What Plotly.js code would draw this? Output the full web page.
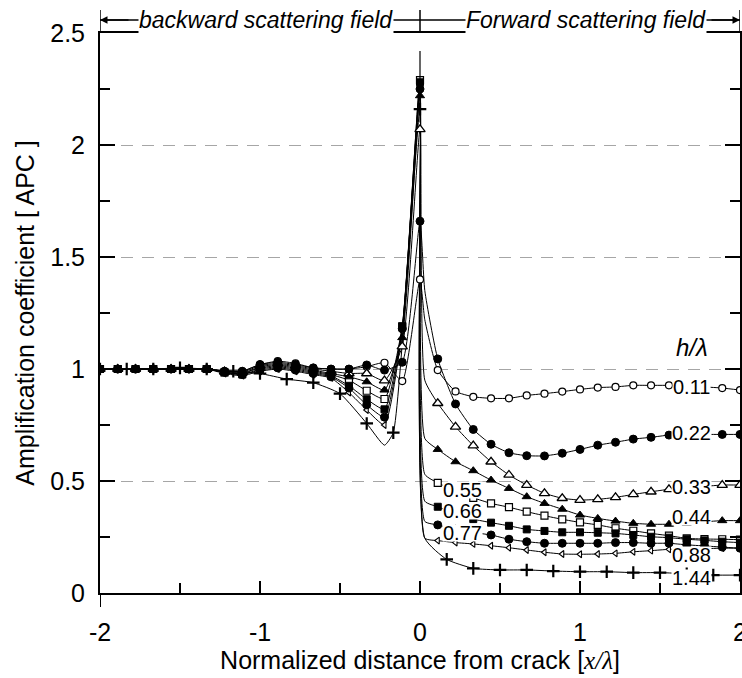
<!DOCTYPE html>
<html>
<head>
<meta charset="utf-8">
<script src="https://cdn.plot.ly/plotly-3.0.1.min.js"></script>
<style>body{margin:0;padding:0;background:#fff;}#chart{width:742px;height:678px;}</style>
</head>
<body>
<div id="chart"></div>
<script>
// x/λ sample positions (grid step 1/9, plus the point just past the crack)
const xGrid9 = [-2,-1.889,-1.778,-1.667,-1.556,-1.444,-1.333,-1.222,-1.111,-1,-0.889,-0.778,-0.667,-0.556,-0.444,-0.333,-0.222,-0.111,
  0,0.03,0.111,0.222,0.333,0.444,0.556,0.667,0.778,0.889,1,1.111,1.222,1.333,1.444,1.556,1.667,1.778,1.889,2];
// grid step 1/6 for h/λ = 1.44
const xGrid6 = [-2,-1.833,-1.667,-1.5,-1.333,-1.167,-1,-0.833,-0.667,-0.5,-0.333,-0.222,-0.167,
  0,0.03,0.167,0.333,0.5,0.667,0.833,1,1.167,1.333,1.5,1.667,1.833,2];

const apc011 = [1,1,1,1,1,1,1,0.99,0.99,1.02,1.035,1.025,1.005,1.0,1.0,1.01,1.028,0.946,
  1.40,1.22,0.995,0.90,0.876,0.869,0.869,0.882,0.89,0.899,0.909,0.917,0.92,0.927,0.927,0.927,0.925,0.92,0.915,0.906];
const apc022 = [1,1,1,1,1,1,1,0.99,0.99,1.02,1.03,1.02,1.005,1.0,1.0,1.018,0.995,1.03,
  1.66,1.35,1.045,0.844,0.73,0.664,0.626,0.613,0.612,0.624,0.641,0.66,0.673,0.687,0.695,0.705,0.708,0.708,0.708,0.708];
const apc033 = [1,1,1,1,1,1,1,0.988,0.985,1.015,1.025,1.015,1.0,0.99,0.98,0.98,0.948,1.10,
  2.07,0.95,0.847,0.742,0.658,0.586,0.527,0.482,0.445,0.423,0.415,0.418,0.427,0.44,0.452,0.463,0.47,0.476,0.482,0.482];
const apc044 = [1,1,1,1,1,1,1,0.985,0.98,1.01,1.02,1.01,0.995,0.98,0.965,0.943,0.906,1.14,
  2.22,0.69,0.641,0.586,0.546,0.504,0.467,0.43,0.40,0.374,0.348,0.333,0.321,0.311,0.307,0.307,0.312,0.318,0.323,0.323];
const apc055 = [1,1,1,1,1,1,1,0.985,0.98,1.005,1.015,1.005,0.99,0.975,0.95,0.903,0.866,1.19,
  2.29,0.53,0.492,0.455,0.425,0.40,0.383,0.363,0.345,0.329,0.315,0.304,0.289,0.278,0.266,0.256,0.244,0.241,0.24,0.238];
const apc066 = [1,1,1,1,1,1,1,0.985,0.975,1.0,1.01,1.0,0.985,0.97,0.925,0.865,0.82,1.19,
  2.28,0.41,0.385,0.355,0.33,0.314,0.30,0.284,0.277,0.271,0.271,0.269,0.266,0.259,0.251,0.247,0.24,0.235,0.229,0.225];
const apc077 = [1,1,1,1,1,1,1,0.985,0.975,0.995,1.005,0.995,0.98,0.965,0.915,0.84,0.785,1.18,
  2.25,0.32,0.304,0.285,0.27,0.259,0.24,0.229,0.222,0.222,0.222,0.222,0.225,0.225,0.222,0.222,0.215,0.21,0.205,0.2];
const apc088 = [1,1,1,1,1,1,1,0.98,0.97,0.99,1.0,0.99,0.975,0.96,0.895,0.817,0.75,1.17,
  2.25,0.245,0.234,0.225,0.219,0.211,0.202,0.192,0.182,0.174,0.173,0.174,0.177,0.184,0.189,0.195,0.197,0.198,0.2,0.2];
const apc144 = [1,1,1,1.005,1,0.99,0.98,0.955,0.939,0.89,0.757,0.66,0.716,
  2.16,0.245,0.15,0.11,0.103,0.103,0.098,0.095,0.095,0.091,0.091,0.086,0.08,0.08];

const seriesNames = ['0.11','0.22','0.33','0.44','0.55','0.66','0.77','0.88','1.44'];
const labelX = [1.694,1.694,1.694,1.694,0.2625,0.2625,0.2625,1.694,1.694];
const labelY = [0.921,0.714,0.473,0.339,0.462,0.364,0.266,0.17,0.067];
const xTickVals = [-2,-1,0,1,2];
const xTickText = ['-2','-1','0','1','2'];

const seriesDefs = [
  {x:xGrid9, y:apc011, step:9, sym:'circle', fill:'white', size:7, lw:1.2},
  {x:xGrid9, y:apc022, step:9, sym:'circle', fill:'black', size:8, lw:1},
  {x:xGrid9, y:apc033, step:9, sym:'triangle-up', fill:'white', size:9, lw:1.3},
  {x:xGrid9, y:apc044, step:9, sym:'triangle-up', fill:'black', size:8, lw:1},
  {x:xGrid9, y:apc055, step:9, sym:'square', fill:'white', size:7, lw:1.2},
  {x:xGrid9, y:apc066, step:9, sym:'square', fill:'black', size:7, lw:1},
  {x:xGrid9, y:apc077, step:9, sym:'circle', fill:'black', size:8, lw:1},
  {x:xGrid9, y:apc088, step:9, sym:'triangle-left', fill:'white', size:6, lw:1.1},
  {x:xGrid6, y:apc144, step:6, sym:'cross-thin', fill:'black', size:9, lw:2.2}
];

const lineTraces = [], markerTraces = [];
seriesDefs.forEach((s, i) => {
  lineTraces.push({x:s.x, y:s.y, mode:'lines', type:'scatter',
    line:{color:'black', width:1, shape:'spline', smoothing:0.5}, hoverinfo:'skip', name:seriesNames[i]});
  const mx = [], my = [];
  s.x.forEach((v, j) => { if (Math.abs(v*s.step - Math.round(v*s.step)) < 0.02) { mx.push(v); my.push(s.y[j]); } });
  markerTraces.push({x:mx, y:my, mode:'markers', type:'scatter',
    marker:{symbol:s.sym, size:s.size, color:s.fill, line:{color:'black', width:s.lw}}, hoverinfo:'skip', name:seriesNames[i]});
});
// draw order of markers: open ones first, filled squares/triangles on top
const markerOrder = [0, 2, 4, 7, 1, 6, 8, 3, 5];
const traces = lineTraces.concat(markerOrder.map(i => markerTraces[i]));

const FONT = 'Arial, "Liberation Sans", sans-serif';
const annotations = seriesNames.map((n, i) => ({
  x:labelX[i], y:labelY[i], xref:'x', yref:'y', text:n, showarrow:false,
  font:{family:FONT, size:20, color:'black'}, bgcolor:'white', borderpad:0, height:16,
  xanchor:'center', yanchor:'middle'
}));
annotations.push({x:1.70, y:1.094, xref:'x', yref:'y', text:'<i>h/λ</i>', showarrow:false,
  font:{family:FONT, size:24, color:'black'}, xanchor:'center', yanchor:'middle'});
const hy = 1.0232;
annotations.push({x:-0.963, y:hy, xref:'x', yref:'paper', text:'<i>backward scattering field</i>', showarrow:false,
  font:{family:FONT, size:23, color:'black'}, bgcolor:'white', borderpad:0, xanchor:'center', yanchor:'middle'});
annotations.push({x:1.04, y:hy, xref:'x', yref:'paper', text:'<i>Forward scattering field</i>', showarrow:false,
  font:{family:FONT, size:23, color:'black'}, bgcolor:'white', borderpad:0, xanchor:'center', yanchor:'middle'});
annotations.push({x:-2, y:hy, xref:'x', yref:'paper', text:'', showarrow:true, ax:30, ay:0, axref:'pixel', ayref:'pixel',
  arrowhead:2, arrowsize:1, arrowwidth:1.5, arrowcolor:'black', standoff:0});
annotations.push({x:2, y:hy, xref:'x', yref:'paper', text:'', showarrow:true, ax:-30, ay:0, axref:'pixel', ayref:'pixel',
  arrowhead:2, arrowsize:1, arrowwidth:1.5, arrowcolor:'black', standoff:0});

const shapes = [
  {type:'line', xref:'x', yref:'paper', x0:-2, x1:2, y0:hy, y1:hy, line:{color:'black', width:1.5}},
  {type:'line', xref:'x', yref:'paper', x0:-2, x1:-2, y0:1, y1:1.041, line:{color:'black', width:1.5}},
  {type:'line', xref:'x', yref:'paper', x0:0, x1:0, y0:1, y1:1.041, line:{color:'black', width:1.5}},
  {type:'line', xref:'x', yref:'paper', x0:2, x1:2, y0:1, y1:1.041, line:{color:'black', width:1.5}},
  {type:'line', xref:'x', yref:'y', x0:0, x1:0, y0:2.1, y1:2.42, line:{color:'black', width:1.2}},
  {type:'line', xref:'x', yref:'paper', x0:-2, x1:-2, y0:-0.025, y1:0, line:{color:'black', width:2}}
];

const layout = {
  width:742, height:678,
  margin:{l:100, r:2, t:33, b:85},
  paper_bgcolor:'white', plot_bgcolor:'white',
  showlegend:false,
  font:{family:FONT, color:'black'},
  xaxis:{range:[-2,2], tickvals:xTickVals, ticktext:xTickText, ticks:'inside', ticklen:12, tickwidth:2, tickcolor:'black',
    showline:true, linewidth:2, linecolor:'black', mirror:true, zeroline:false, showgrid:false,
    minor:{dtick:0.5, tick0:-2, ticks:'inside', ticklen:10, tickwidth:2, tickcolor:'black', showgrid:false},
    tickfont:{family:FONT, size:25, color:'black'}, ticklabelstandoff:16, ticklabeloverflow:'allow',
    title:{text:'Normalized distance from crack [<span style="font-family:\'Liberation Serif\',serif"><i>x/λ</i></span>]',
      font:{family:FONT, size:25, color:'black'}, standoff:2}},
  yaxis:{range:[0,2.5], dtick:0.5, tick0:0, ticks:'inside', ticklen:15, tickwidth:2.5, tickcolor:'black',
    showline:true, linewidth:2, linecolor:'black', mirror:'ticks', zeroline:false,
    showgrid:true, gridcolor:'#a6a6a6', griddash:'12px,9px', gridwidth:1,
    minor:{dtick:0.25, ticks:'inside', ticklen:10, tickwidth:2, tickcolor:'black', showgrid:false},
    tickfont:{family:FONT, size:25, color:'black'}, ticklabelstandoff:8,
    title:{text:'Amplification coefficient [ APC ]', font:{family:FONT, size:25, color:'black'}, standoff:8}},
  annotations:annotations,
  shapes:shapes
};

Plotly.newPlot('chart', traces, layout, {staticPlot:true, displayModeBar:false});
</script>
</body>
</html>
